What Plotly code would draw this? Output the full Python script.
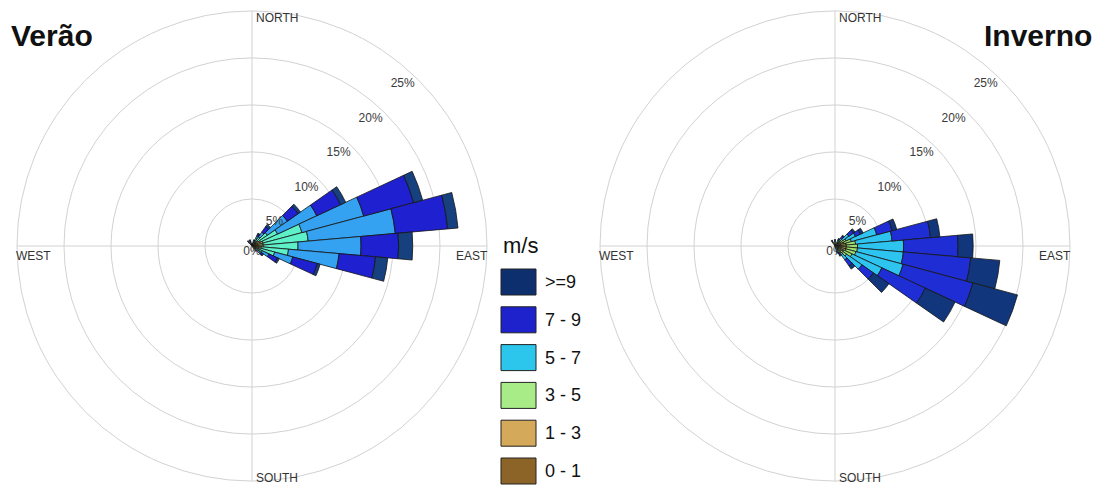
import plotly.graph_objects as go

# ---- data: frequency (%) per direction sector and wind-speed class ----
speed_classes = ["0 - 1", "1 - 3", "3 - 5", "5 - 7", "7 - 9", ">=9"]

verao_dirs = [0, 20, 30, 40, 50, 60, 70, 80, 90, 100, 110, 120, 130, 140, 320, 340]
verao_0_1 = [0.1, 0.1, 0.2, 0.2, 0.2, 0.3, 0.3, 0.3, 0.3, 0.3, 0.2, 0.2, 0.2, 0.1, 0.1, 0.1]
verao_1_3 = [0.1, 0.2, 0.3, 0.4, 0.6, 0.7, 0.9, 0.9, 0.9, 0.7, 0.6, 0.3, 0.2, 0.2, 0.2, 0.2]
verao_3_5 = [0.1, 0.2, 0.4, 0.6, 1.2, 2.0, 4.3, 4.8, 3.7, 2.9, 1.7, 0.7, 0.4, 0.2, 0.1, 0.1]
verao_5_7 = [0.0, 0.1, 0.3, 0.6, 2.6, 4.6, 6.8, 9.3, 6.7, 5.4, 2.0, 0.8, 0.4, 0.1, 0.1, 0.1]
verao_7_9 = [0.0, 0.1, 0.2, 0.7, 1.4, 2.8, 5.5, 5.6, 4.0, 3.9, 2.7, 1.0, 0.2, 0.1, 0.1, 0.1]
verao_9p = [0.0, 0.0, 0.1, 0.3, 0.3, 0.6, 1.0, 1.1, 1.5, 1.3, 0.3, 0.2, 0.1, 0.0, 0.1, 0.1]

inverno_dirs = [0, 30, 40, 50, 60, 70, 80, 90, 100, 110, 120, 130, 140, 150, 160, 330]
inverno_0_1 = [0.1, 0.1, 0.2, 0.2, 0.2, 0.3, 0.4, 0.4, 0.4, 0.4, 0.3, 0.3, 0.2, 0.1, 0.1, 0.1]
inverno_1_3 = [0.2, 0.2, 0.2, 0.4, 0.5, 0.7, 0.8, 0.8, 0.8, 0.8, 0.7, 0.5, 0.3, 0.2, 0.2, 0.2]
inverno_3_5 = [0.1, 0.2, 0.3, 0.4, 0.6, 0.8, 1.0, 1.2, 1.2, 1.1, 1.0, 0.7, 0.4, 0.2, 0.1, 0.1]
inverno_5_7 = [0.1, 0.2, 0.3, 0.8, 1.1, 2.8, 3.9, 4.9, 4.9, 5.2, 3.5, 2.0, 0.9, 0.3, 0.2, 0.1]
inverno_7_9 = [0.1, 0.1, 0.3, 0.6, 0.6, 1.7, 4.1, 5.8, 7.2, 7.7, 5.1, 1.5, 0.8, 0.2, 0.1, 0.1]
inverno_9p = [0.1, 0.1, 0.1, 0.2, 0.3, 0.5, 1.0, 1.6, 3.1, 4.9, 3.5, 2.0, 0.4, 0.2, 0.1, 0.1]

ring_values = [5, 10, 15, 20, 25]
compass_names = ["NORTH", "EAST", "SOUTH", "WEST"]
season_titles = ["Verão", "Inverno"]

# colours (inner -> outer class)
legend_colors = ["#8c6428", "#d4aa5a", "#a8ec88", "#2cc6ec", "#1e22cc", "#0e2f6e"]
verao_colors = ["#8c6428", "#c8b25a", "#5ef0c8", "#34a2f0", "#1f20d0", "#16407e"]
inverno_colors = ["#8c6428", "#b8b450", "#9ee070", "#2ec4f0", "#1f2ed4", "#12367c"]

W, H = 1101, 488
FONT = "Liberation Sans, Arial, sans-serif"
GRID = "#d2d2d2"


def px(x):
    return x / W


def py(y):
    return 1 - y / H


fig = go.Figure()

seasons = [
    ("polar", verao_dirs,
     [verao_0_1, verao_1_3, verao_3_5, verao_5_7, verao_7_9, verao_9p], verao_colors),
    ("polar2", inverno_dirs,
     [inverno_0_1, inverno_1_3, inverno_3_5, inverno_5_7, inverno_7_9, inverno_9p], inverno_colors),
]

for subplot, dirs, bins, colors in seasons:
    for name, vals, col in zip(speed_classes, bins, colors):
        fig.add_trace(go.Barpolar(
            r=vals, theta=dirs, width=10, name=name, subplot=subplot,
            marker=dict(color=col, line=dict(color="#151515", width=0.8)),
            showlegend=False, hoverinfo="skip",
        ))
    # percentage ring labels along the NE diagonal
    fig.add_trace(go.Scatterpolar(
        r=[v - 1.5 for v in ring_values], theta=[43] * len(ring_values),
        text=[f"{v}%" for v in ring_values], mode="text", subplot=subplot,
        textfont=dict(family=FONT, size=12, color="#3a3a3a"),
        showlegend=False, hoverinfo="skip",
    ))
    fig.add_trace(go.Scatterpolar(
        r=[0], theta=[0], text=["0%"], mode="text", textposition="bottom center",
        subplot=subplot, textfont=dict(family=FONT, size=12, color="#3a3a3a"),
        showlegend=False, hoverinfo="skip",
    ))


def polar_layout(x0, x1):
    return dict(
        domain=dict(x=[px(x0), px(x1)], y=[py(481), py(11)]),
        bgcolor="white",
        barmode="stack",
        radialaxis=dict(range=[0, 25], tickvals=[5, 10, 15, 20, 25], showticklabels=False,
                        ticks="", showline=False, gridcolor=GRID, gridwidth=1),
        angularaxis=dict(direction="clockwise", rotation=90, tickvals=[0, 90, 180, 270],
                         showticklabels=False, ticks="", showline=True, linecolor=GRID,
                         linewidth=1, gridcolor=GRID, gridwidth=1),
    )


annotations = []
shapes = []

# compass names for each rose, placed relative to its centre x
for cx in (252, 835):
    pos = {
        "NORTH": (cx + 2, 18, "left"),
        "EAST": (cx + 238, 256, "right"),
        "SOUTH": (cx + 2, 478, "left"),
        "WEST": (cx - 238, 256, "left"),
    }
    for nm in compass_names:
        x, y, anc = pos[nm]
        annotations.append(dict(
            x=px(x), y=py(y), xref="paper", yref="paper", text=nm, showarrow=False,
            xanchor=anc, yanchor="middle", font=dict(family=FONT, size=12, color="#333333"),
        ))

# season titles
annotations.append(dict(x=px(9), y=py(36), xref="paper", yref="paper", text=f"<b>{season_titles[0]}</b>",
                        showarrow=False, xanchor="left", yanchor="middle",
                        font=dict(family=FONT, size=30, color="#111111")))
annotations.append(dict(x=px(1094), y=py(36), xref="paper", yref="paper", text=f"<b>{season_titles[1]}</b>",
                        showarrow=False, xanchor="right", yanchor="middle",
                        font=dict(family=FONT, size=30, color="#111111")))

# legend
annotations.append(dict(x=px(501), y=py(246), xref="paper", yref="paper", text="m/s", showarrow=False,
                        xanchor="left", yanchor="middle", font=dict(family=FONT, size=22, color="#111111")))
legend_top = 269
step = 37.8
for i, (name, col) in enumerate(zip(reversed(speed_classes), reversed(legend_colors))):
    y0 = legend_top + i * step
    shapes.append(dict(type="rect", xref="paper", yref="paper",
                       x0=px(501), x1=px(536), y0=py(y0 + 26), y1=py(y0),
                       fillcolor=col, line=dict(color="#222222", width=1)))
    annotations.append(dict(x=px(543), y=py(y0 + 13), xref="paper", yref="paper", text=name,
                            showarrow=False, xanchor="left", yanchor="middle",
                            font=dict(family=FONT, size=18, color="#111111")))

fig.update_layout(
    width=W, height=H,
    margin=dict(l=0, r=0, t=0, b=0),
    paper_bgcolor="white", plot_bgcolor="white",
    polar=polar_layout(17, 487),
    polar2=polar_layout(600, 1070),
    annotations=annotations,
    shapes=shapes,
    showlegend=False,
)

fig.write_html("out.html")
